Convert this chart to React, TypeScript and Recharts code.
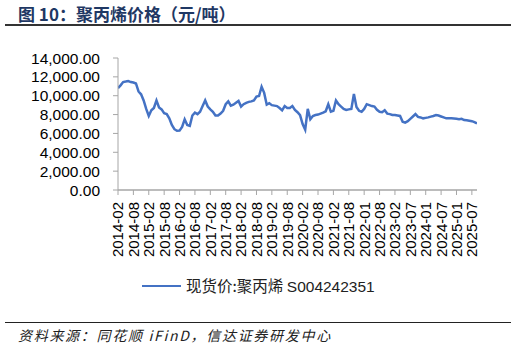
import React from "react";
import { LineChart, Line, XAxis, YAxis } from "recharts";

const tickLabels = [
  "2014-02", "2014-08", "2015-02", "2015-08", "2016-02", "2016-08",
  "2017-02", "2017-08", "2018-02", "2018-08", "2019-02", "2019-08",
  "2020-02", "2020-08", "2021-02", "2021-08", "2022-01", "2022-08",
  "2023-02", "2023-07", "2024-01", "2024-07", "2025-01", "2025-07",
];

const priceValues = [
  10800, 11100, 11450, 11500, 11560, 11450, 11400, 11300, 10450, 10150,
  9500, 8600, 7850, 8450, 8700, 9500, 8750, 8550, 8150, 8050,
  7600, 6900, 6450, 6280, 6300, 6700, 7500, 6900, 6800, 7900,
  8200, 8050, 8300, 8900, 9500, 8850, 8550, 8300, 7900, 7900,
  8100, 8400, 9100, 9400, 8950, 9050, 9250, 9450, 8850, 9100,
  9250, 9350, 9400, 9500, 9900, 9970, 10950, 10300, 9050, 9200,
  9000, 8950, 8900, 8700, 8450, 8900, 8700, 8700, 8900, 8500,
  8250, 7950, 7000, 6400, 8600, 7500, 7850, 7950, 8000, 8100,
  8200, 8350, 9100, 8300, 8400, 9500, 9100, 8850, 8600, 8500,
  8550, 8600, 10180, 8800, 8400, 8300, 8600, 9100, 9000, 8900,
  8850, 8500, 8300, 8250, 8450, 8100, 8050, 7950, 7950, 7900,
  7850, 7250, 7150, 7300, 7550, 7800, 8050, 7750, 7700, 7600,
  7650, 7700, 7780, 7850, 7950, 7900, 7800, 7700, 7600, 7620,
  7600, 7580, 7550, 7500, 7550, 7420, 7400, 7350, 7300, 7200,
  7050,
];

const yTicks = [0, 2000, 4000, 6000, 8000, 10000, 12000, 14000];
const pointsPerTick = 6;

const data = priceValues.map((v, i) => ({ i, v }));
const xTicks = tickLabels.map((_, k) => k * pointsPerTick);

const BLUE = "#4472C4";
const AXIS = "#A6A6A6";

const XTick = (props: any) => {
  const { x, y, payload } = props;
  const label = tickLabels[Math.round(payload.value / pointsPerTick)];
  return (
    <text
      x={0}
      y={0}
      transform={`translate(${x},${y + 5}) rotate(-90)`}
      textAnchor="end"
      dy="0.36em"
      fontSize={15}
      fill="#000"
      fontFamily="'Liberation Sans', Arial, sans-serif"
    >
      {label}
    </text>
  );
};

const fmt = (v: number) =>
  v.toLocaleString("en-US", { minimumFractionDigits: 2, maximumFractionDigits: 2 });

export default function App() {
  return (
    <div
      style={{
        position: "fixed",
        left: 0,
        top: 0,
        width: 516,
        height: 348,
        background: "#fff",
        fontFamily: "'Noto Sans CJK SC', 'Liberation Sans', sans-serif",
      }}
    >
      <div
        style={{
          position: "absolute",
          left: 18,
          top: 3,
          fontSize: 17,
          fontWeight: "bold",
          color: "#1F3864",
          lineHeight: "21px",
          whiteSpace: "nowrap",
        }}
      >
        图 10：聚丙烯价格（元/吨）
      </div>
      <div
        style={{
          position: "absolute",
          left: 5,
          top: 24,
          width: 506,
          height: 1.5,
          background: "#333",
        }}
      />
      <div style={{ position: "absolute", left: 0, top: 0 }}>
        <LineChart
          width={516}
          height={348}
          data={data}
          margin={{ top: 58, right: 39, left: 0, bottom: 88 }}
        >
          <XAxis
            dataKey="i"
            type="number"
            domain={[0, priceValues.length - 1]}
            ticks={xTicks}
            interval={0}
            tick={<XTick />}
            tickSize={5}
            height={70}
            axisLine={{ stroke: AXIS, strokeWidth: 1.5 }}
            tickLine={{ stroke: AXIS }}
            allowDataOverflow
          />
          <YAxis
            width={118}
            domain={[0, 14000]}
            ticks={yTicks}
            interval={0}
            tickFormatter={fmt}
            tickSize={5}
            tickMargin={13}
            axisLine={{ stroke: AXIS }}
            tickLine={{ stroke: AXIS }}
            tick={{
              fontSize: 15.5,
              fill: "#000",
              fontFamily: "'Liberation Sans', Arial, sans-serif",
            }}
          />
          <Line
            type="linear"
            dataKey="v"
            stroke={BLUE}
            strokeWidth={2.5}
            dot={false}
            isAnimationActive={false}
          />
        </LineChart>
      </div>
      <div
        style={{
          position: "absolute",
          left: 142,
          top: 285,
          width: 39,
          height: 2,
          background: BLUE,
        }}
      />
      <div
        style={{
          position: "absolute",
          left: 186,
          top: 275,
          fontSize: 15.5,
          lineHeight: "21px",
          color: "#222",
          whiteSpace: "nowrap",
        }}
      >
        现货价:聚丙烯 <span style={{ fontFamily: "'Liberation Sans', Arial, sans-serif" }}>S004242351</span>
      </div>
      <div
        style={{
          position: "absolute",
          left: 5,
          top: 322,
          width: 506,
          height: 1,
          background: "#222",
        }}
      />
      <div
        style={{
          position: "absolute",
          left: 18,
          top: 325,
          fontSize: 14,
          lineHeight: "20px",
          fontStyle: "italic",
          color: "#222",
          letterSpacing: 1.7,
          whiteSpace: "nowrap",
        }}
      >
        资料来源：同花顺 iFinD，信达证券研发中心
      </div>
    </div>
  );
}
